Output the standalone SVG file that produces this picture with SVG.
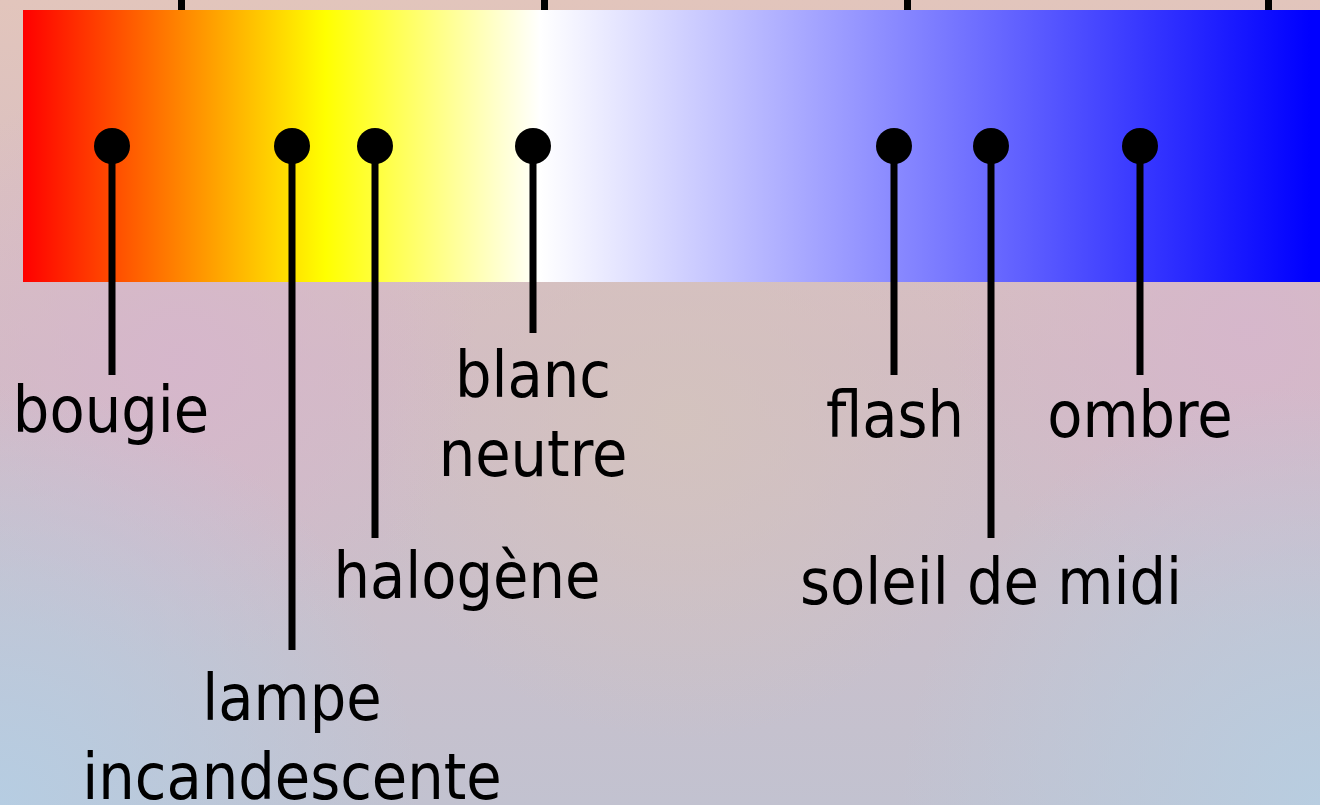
<svg xmlns="http://www.w3.org/2000/svg" width="1320" height="805" viewBox="0 0 1320 805">
<defs>
<style>
.lbl{font-family:'DejaVu Sans Condensed','DejaVu Sans',sans-serif;font-stretch:condensed;font-size:64px;fill:#000;text-anchor:middle}
.stem{stroke:#000;stroke-width:7;fill:none}
.dot{fill:#000}
</style>
<linearGradient id="bg" x1="0" y1="0" x2="0" y2="1">
<stop offset="0" stop-color="#e2c5bc"/>
<stop offset="0.45" stop-color="#d3bcc4"/>
<stop offset="1" stop-color="#c2c2d0"/>
</linearGradient>
<radialGradient id="blueBL" cx="0" cy="805" r="420" gradientUnits="userSpaceOnUse">
<stop offset="0" stop-color="#b6cde2" stop-opacity="1"/>
<stop offset="1" stop-color="#b6cde2" stop-opacity="0"/>
</radialGradient>
<radialGradient id="blueBR" cx="1320" cy="805" r="420" gradientUnits="userSpaceOnUse">
<stop offset="0" stop-color="#b8cde0" stop-opacity="1"/>
<stop offset="1" stop-color="#b8cde0" stop-opacity="0"/>
</radialGradient>
<radialGradient id="pinkL" cx="180" cy="360" r="300" gradientUnits="userSpaceOnUse">
<stop offset="0" stop-color="#d6b6cc" stop-opacity="0.9"/>
<stop offset="1" stop-color="#d6b6cc" stop-opacity="0"/>
</radialGradient>
<radialGradient id="pinkR" cx="1250" cy="330" r="300" gradientUnits="userSpaceOnUse">
<stop offset="0" stop-color="#d6b6cc" stop-opacity="0.9"/>
<stop offset="1" stop-color="#d6b6cc" stop-opacity="0"/>
</radialGradient>
<radialGradient id="beigeM" cx="680" cy="420" r="320" gradientUnits="userSpaceOnUse">
<stop offset="0" stop-color="#d4c4bc" stop-opacity="0.8"/>
<stop offset="1" stop-color="#d4c4bc" stop-opacity="0"/>
</radialGradient>
<linearGradient id="spec" x1="23" y1="0" x2="1320" y2="0" gradientUnits="userSpaceOnUse">
<stop offset="0" stop-color="#ff0000"/>
<stop offset="0.233" stop-color="#ffff00"/>
<stop offset="0.399" stop-color="#ffffff"/>
<stop offset="0.992" stop-color="#0000ff"/>
<stop offset="1" stop-color="#0000ff"/>
</linearGradient>
</defs>
<g id="background">
<rect x="0" y="0" width="1320" height="805" fill="url(#bg)"/>
<rect x="0" y="0" width="1320" height="805" fill="url(#beigeM)"/>
<rect x="0" y="0" width="1320" height="805" fill="url(#pinkL)"/>
<rect x="0" y="0" width="1320" height="805" fill="url(#pinkR)"/>
<rect x="0" y="0" width="1320" height="805" fill="url(#blueBL)"/>
<rect x="0" y="0" width="1320" height="805" fill="url(#blueBR)"/>
</g>
<g id="ticks" fill="#000">
<rect x="178" y="0" width="7" height="10"/>
<rect x="541" y="0" width="7" height="10"/>
<rect x="904" y="0" width="7" height="10"/>
<rect x="1265" y="0" width="7" height="10"/>
</g>
<g id="spectrum">
<rect x="23" y="10" width="1297" height="272" fill="url(#spec)"/>
</g>
<g id="connectors">
<line class="stem" x1="112" y1="146" x2="112" y2="375"/>
<line class="stem" x1="292" y1="146" x2="292" y2="650"/>
<line class="stem" x1="375" y1="146" x2="375" y2="538"/>
<line class="stem" x1="533" y1="146" x2="533" y2="333"/>
<line class="stem" x1="894" y1="146" x2="894" y2="375"/>
<line class="stem" x1="991" y1="146" x2="991" y2="538"/>
<line class="stem" x1="1140" y1="146" x2="1140" y2="375"/>
</g>
<g id="bougie">
<circle class="dot" cx="112" cy="146" r="18"/>
<text class="lbl" x="111" y="432">bougie</text>
</g>
<g id="lampe-incandescente">
<circle class="dot" cx="292" cy="146" r="18"/>
<text class="lbl" x="292" y="720">lampe</text>
<text class="lbl" x="292" y="799">incandescente</text>
</g>
<g id="halogene">
<circle class="dot" cx="375" cy="146" r="18"/>
<text class="lbl" x="467" y="598">halogène</text>
</g>
<g id="blanc-neutre">
<circle class="dot" cx="533" cy="146" r="18"/>
<text class="lbl" x="533" y="397">blanc</text>
<text class="lbl" x="533" y="476">neutre</text>
</g>
<g id="flash">
<circle class="dot" cx="894" cy="146" r="18"/>
<text class="lbl" x="895" y="437">flash</text>
</g>
<g id="soleil-de-midi">
<circle class="dot" cx="991" cy="146" r="18"/>
<text class="lbl" x="991" y="604">soleil de midi</text>
</g>
<g id="ombre">
<circle class="dot" cx="1140" cy="146" r="18"/>
<text class="lbl" x="1140" y="437">ombre</text>
</g>
</svg>
